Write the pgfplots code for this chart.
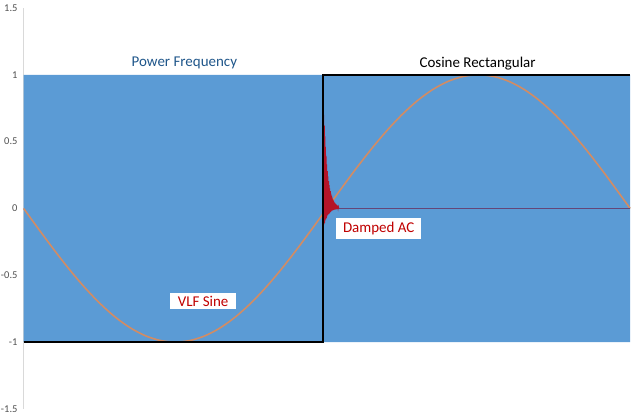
\documentclass[border=0pt]{standalone}
\usepackage{pgfplots}
\pgfplotsset{compat=1.18}
\usepackage{fontspec}
\setmainfont{Carlito}
\definecolor{areablue}{RGB}{91,155,213}
\definecolor{sineorange}{RGB}{210,140,100}
\definecolor{dampred}{RGB}{180,20,40}
\definecolor{zeroline}{RGB}{100,70,120}
\definecolor{pfblue}{RGB}{31,86,138}
\definecolor{txtred}{RGB}{192,0,0}
\definecolor{axgray}{RGB}{217,217,217}
\definecolor{lblgray}{RGB}{80,80,80}
\begin{document}
\begin{tikzpicture}
\begin{axis}[
  scale only axis,
  width=616pt, height=402pt,
  xmin=0, xmax=2.026, ymin=-1.5, ymax=1.5,
  axis y line=left, axis x line=none,
  axis line style={draw=axgray, line width=0.8pt, -},
  xtick=\empty,
  ytick={-1.5,-1,-0.5,0,0.5,1,1.5},
  yticklabels={-1.5,-1,-0.5,0,0.5,1,1.5},
  major tick length=0pt,
  yticklabel style={font=\fontsize{10.5}{12}\selectfont, text=lblgray, inner sep=1pt, xshift=-5pt},
  clip=false,
]
% blue area
\addplot[fill=areablue, draw=none] coordinates {(0,-1) (0,1) (2,1) (2,-1) (0,-1)};
% VLF sine
\addplot[sineorange, line width=1.6pt, smooth] coordinates {
(0,0) (0.05,-0.1564) (0.1,-0.3090) (0.15,-0.4540) (0.2,-0.5878) (0.25,-0.7071)
(0.3,-0.8090) (0.35,-0.8910) (0.4,-0.9511) (0.45,-0.9877) (0.5,-1)
(0.55,-0.9877) (0.6,-0.9511) (0.65,-0.8910) (0.7,-0.8090) (0.75,-0.7071)
(0.8,-0.5878) (0.85,-0.4540) (0.9,-0.3090) (0.95,-0.1564) (1,0)
(1.05,0.1564) (1.1,0.3090) (1.15,0.4540) (1.2,0.5878) (1.25,0.7071)
(1.3,0.8090) (1.35,0.8910) (1.4,0.9511) (1.45,0.9877) (1.5,1)
(1.55,0.9877) (1.6,0.9511) (1.65,0.8910) (1.7,0.8090) (1.75,0.7071)
(1.8,0.5878) (1.85,0.4540) (1.9,0.3090) (1.95,0.1564) (2,0)};
% zero line of damped AC
\addplot[zeroline, line width=1.2pt] coordinates {(0.99,0) (2,0)};
% damped AC
\addplot[dampred, line width=0.6pt] coordinates {
(0.990,0.70) (0.991,-0.12) (0.992,0.62) (0.993,-0.11) (0.994,0.54) (0.995,-0.09)
(0.996,0.46) (0.997,-0.08) (0.998,0.39) (0.999,-0.07) (1.000,0.33) (1.001,-0.06)
(1.002,0.28) (1.003,-0.05) (1.004,0.24) (1.005,-0.045) (1.006,0.205) (1.007,-0.04)
(1.008,0.175) (1.009,-0.035) (1.010,0.15) (1.011,-0.03) (1.012,0.13) (1.013,-0.025)
(1.014,0.11) (1.015,-0.02) (1.016,0.095) (1.017,-0.017) (1.018,0.08) (1.019,-0.015)
(1.020,0.068) (1.021,-0.013) (1.022,0.058) (1.023,-0.011) (1.024,0.05) (1.025,-0.009)
(1.026,0.043) (1.027,-0.008) (1.028,0.037) (1.029,-0.007) (1.030,0.032) (1.031,-0.006)
(1.032,0.027) (1.033,-0.005) (1.034,0.023) (1.035,-0.004) (1.036,0.020) (1.037,-0.003)
(1.038,0.017) (1.040,0)};
% cosine rectangular
\addplot[black, line width=2.2pt] coordinates {(0,-1) (0.987,-1) (0.987,1) (2,1)};
% labels
\node[text=pfblue, font=\fontsize{15}{18}\selectfont] at (axis cs:0.53,1.087) {Power Frequency};
\node[text=black, font=\fontsize{15}{18}\selectfont] at (axis cs:1.497,1.087) {Cosine Rectangular};
\node[fill=white, text=txtred, font=\fontsize{15}{18}\selectfont, inner xsep=7pt, inner ysep=4pt] at (axis cs:1.171,-0.149) {Damped AC};
\node[fill=white, text=txtred, font=\fontsize{15}{18}\selectfont, inner xsep=8pt, inner ysep=3pt] at (axis cs:0.592,-0.694) {VLF Sine};
\path ([yshift=8pt]rel axis cs:1,1) -- ([yshift=-8pt]rel axis cs:1,0);
\end{axis}
\end{tikzpicture}
\end{document}
